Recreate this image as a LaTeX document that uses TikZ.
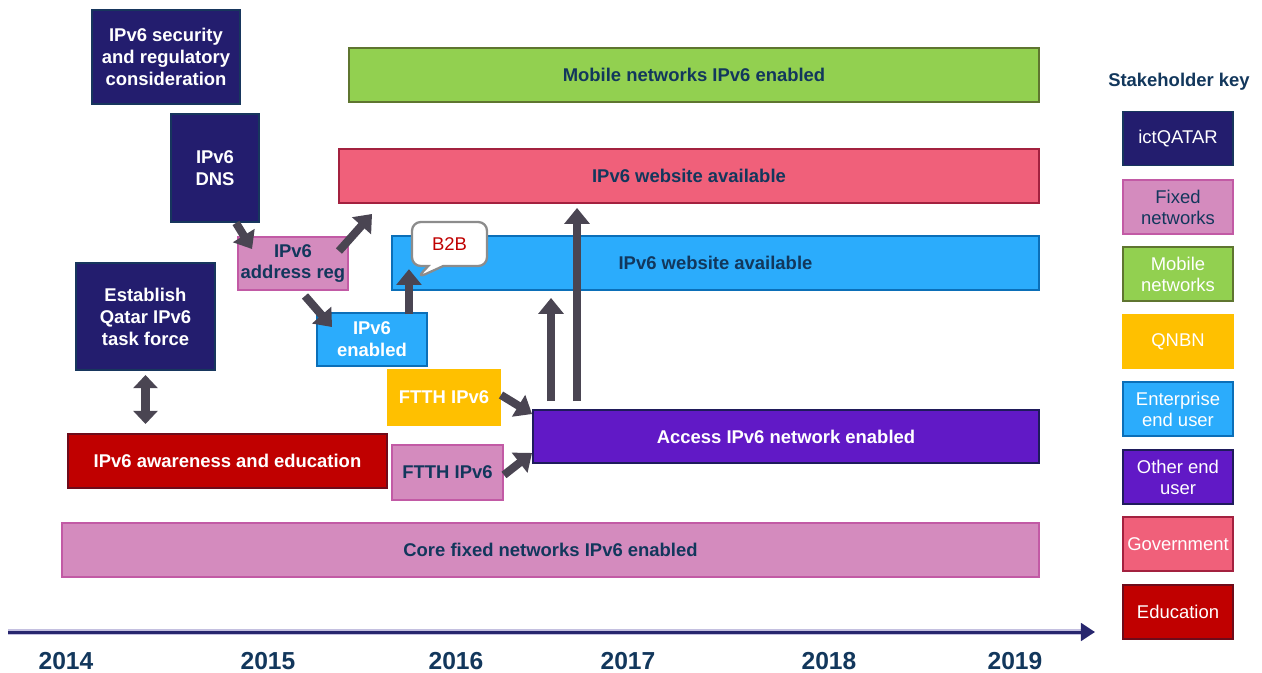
\documentclass[tikz,border=0pt]{standalone}
\usepackage{fontspec}
\setmainfont{Liberation Sans}
\usetikzlibrary{arrows.meta,calc,shapes.callouts}
\definecolor{navyF}{HTML}{231D6E}
\definecolor{navyB}{HTML}{17365D}
\definecolor{pinkF}{HTML}{D48BBE}
\definecolor{pinkB}{HTML}{C25AA5}
\definecolor{greenF}{HTML}{92D050}
\definecolor{greenB}{HTML}{5F7530}
\definecolor{yellowF}{HTML}{FFC000}
\definecolor{blueF}{HTML}{2BACFC}
\definecolor{blueB}{HTML}{0B6FB8}
\definecolor{purpF}{HTML}{6119C6}
\definecolor{purpB}{HTML}{1F1B5C}
\definecolor{govF}{HTML}{F0607A}
\definecolor{govB}{HTML}{A3213F}
\definecolor{eduF}{HTML}{C00000}
\definecolor{eduB}{HTML}{6E0B1A}
\definecolor{darktext}{HTML}{12375C}
\definecolor{arrowgray}{HTML}{4A4552}
\definecolor{tlnavy}{HTML}{27266E}
\definecolor{tlhalo}{HTML}{C4C0E0}
\definecolor{calloutB}{HTML}{8C8C8C}
\tikzset{
  sz/.style 2 args={minimum width=#1*0.02cm, minimum height=#2*0.02cm},
  box/.style={draw, line width=1.1pt, inner sep=0pt, align=center,
    font=\fontsize{10.5}{12.5}\selectfont\bfseries},
  legbox/.style={draw, line width=1.1pt, inner sep=0pt, align=center,
    font=\fontsize{10.5}{12}\selectfont, minimum width=110*0.02cm, minimum height=54*0.02cm},
  ictq/.style={fill=navyF, draw=navyB, text=white},
  fixed/.style={fill=pinkF, draw=pinkB, text=darktext},
  mobile/.style={fill=greenF, draw=greenB, text=darktext},
  qnbn/.style={fill=yellowF, draw=yellowF, text=white},
  enter/.style={fill=blueF, draw=blueB, text=white},
  other/.style={fill=purpF, draw=purpB, text=white},
  govt/.style={fill=govF, draw=govB, text=darktext},
  educ/.style={fill=eduF, draw=eduB, text=white},
  barrow/.style={draw=arrowgray, line width=4.6pt, line cap=butt,
    -{Triangle[width=14pt, length=9pt]}},
  dbarrow/.style={draw=arrowgray, line width=4.8pt, line cap=butt,
    {Triangle[width=13.6pt, length=7.5pt]}-{Triangle[width=13.6pt, length=7.5pt]}},
  year/.style={font=\fontsize{14}{14}\selectfont\bfseries, text=darktext, inner sep=0pt},
}
\begin{document}
\begin{tikzpicture}[x=0.02cm, y=-0.02cm]
\useasboundingbox (0,0) rectangle (1262,673);

% bars
\node[box, mobile, sz={690}{54}] (mob) at (694,75) {Mobile networks IPv6 enabled};
\node[box, govt, sz={700}{54}] (gov) at (689,176) {IPv6 website available};
\node[box, enter, text=darktext, sz={647}{54}] (ent) at (715.5,263) {IPv6 website available};
\node[box, other, sz={506}{53}] (acc) at (786,436.5) {Access IPv6 network enabled};
\node[box, educ, sz={319}{54}] (edu) at (227.5,461) {IPv6 awareness and education};
\node[box, fixed, sz={977}{54}] (core) at (550.5,550) {Core fixed networks IPv6 enabled};

% small boxes
\node[box, ictq, sz={148}{94}] (sec) at (166,57) {IPv6 security\\and regulatory\\consideration};
\node[box, ictq, sz={88}{108}] (dns) at (215,168) {IPv6\\DNS};
\node[box, fixed, sz={110}{53}] (areg) at (293,263.5) {IPv6\\address reg};
\node[box, ictq, sz={139}{107}] (est) at (145.5,316.5) {Establish\\Qatar IPv6\\task force};
\node[box, enter, sz={110}{53}] (ipen) at (372,339.5) {IPv6\\enabled};
\node[box, qnbn, sz={112}{55}] (ftthY) at (444,397.5) {FTTH IPv6};
\node[box, fixed, sz={111}{55}] (ftthP) at (447.5,472.5) {FTTH IPv6};

% callout
\node[rectangle callout, rounded corners=5pt, draw=calloutB, line width=1.3pt, fill=white,
  sz={75}{44}, inner sep=0pt, callout absolute pointer={(417,278)},
  callout pointer width=0.3cm, text=eduF, font=\fontsize{10.5}{12}\selectfont] (b2b) at (449.5,244) {B2B};

% arrows
\draw[barrow] ($(dns.south)+(21,0)$) -- ($(areg.north west)+(15,13)$);
\draw[barrow] ($(areg.north east)+(-10,15)$) -- ($(gov.south west)+(34,10)$);
\draw[barrow] ($(areg.south)+(12,5)$) -- ($(ipen.north west)+(16,15)$);
\draw[barrow] ($(ipen.north east)+(-19,2)$) -- ($(ipen.north east |- b2b.south)+(-19,2)$);
\draw[barrow] ($(ftthY.east)+(0,-2.5)$) -- ($(acc.north west)+(0,5)$);
\draw[barrow] ($(ftthP.east)+(0,2.5)$) -- ($(acc.south west)+(0,-11)$);
\draw[barrow] ($(acc.north west)+(19,-8)$) -- ($(ent.south west)+(160,7)$);
\draw[barrow] ($(acc.north west)+(45,-8)$) -- ($(gov.south west)+(239,4)$);
\draw[dbarrow] ($(est.south)+(0,4)$) -- ($(est.south |- edu.north)+(0,-9)$);

% legend
\node[font=\fontsize{10.5}{12}\selectfont\bfseries, text=darktext] (keyt) at (1179,82) {Stakeholder key};
\node[legbox, ictq] (k1) at (1178,138.5) {ictQATAR};
\node[legbox, fixed] (k2) at (1178,207) {Fixed\\networks};
\node[legbox, mobile, text=white] (k3) at (1178,274) {Mobile\\networks};
\node[legbox, qnbn] (k4) at (1178,341.5) {QNBN};
\node[legbox, enter] (k5) at (1178,409) {Enterprise\\end user};
\node[legbox, other] (k6) at (1178,477) {Other end\\user};
\node[legbox, govt, text=white] (k7) at (1178,544) {Government};
\node[legbox, educ] (k8) at (1178,612) {Education};

% timeline
\coordinate (tl0) at (8,632);
\coordinate (tl1) at (1095,632);
\draw[tlhalo, line width=3pt] (tl0) -- ($(tl1)+(-14,0)$);
\draw[tlnavy, line width=1.7pt, -{Triangle[width=10pt, length=8pt]}] (tl0) -- (tl1);

\node[year] (y14) at (66,661) {2014};
\node[year] (y15) at (268,661) {2015};
\node[year] (y16) at (456,661) {2016};
\node[year] (y17) at (628,661) {2017};
\node[year] (y18) at (829,661) {2018};
\node[year] (y19) at (1015,661) {2019};
\end{tikzpicture}
\end{document}
